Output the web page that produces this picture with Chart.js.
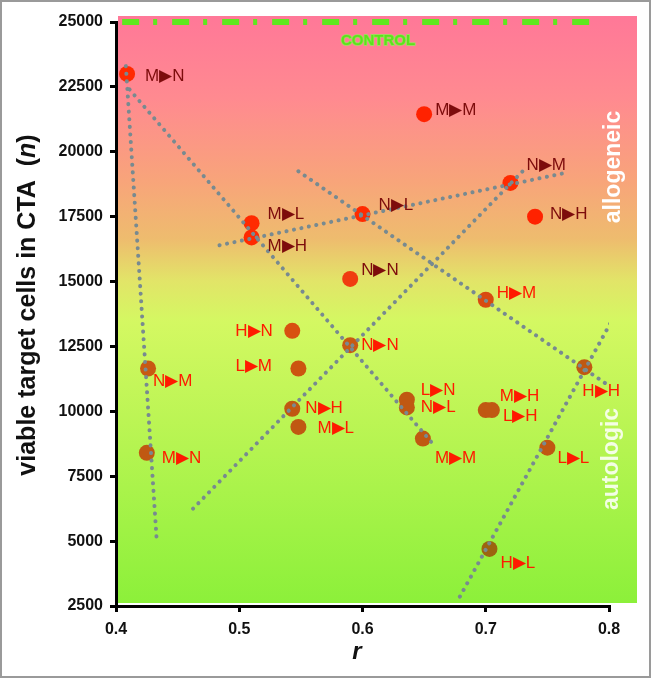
<!DOCTYPE html>
<html>
<head>
<meta charset="utf-8">
<script src="https://cdn.jsdelivr.net/npm/chart.js@4.4.1/dist/chart.umd.min.js"></script>
<style>
    html, body { margin: 0; padding: 0; background: #fff; }
    #wrap { width: 651px; height: 678px; position: relative; }
</style>
</head>
<body>
<div id="wrap"><canvas id="ctaChart"></canvas></div>
<script>
// Data
const rValues = [0.409, 0.65, 0.72, 0.74, 0.51, 0.51, 0.60, 0.59, 0.70, 0.543, 0.548, 0.426,
    0.59, 0.543, 0.548, 0.636, 0.636, 0.70, 0.705, 0.649, 0.425, 0.75, 0.78, 0.703];
const viableCells = [23000, 21450, 18800, 17500, 17250, 16700, 17600, 15100, 14300, 13100, 11650, 11650,
    12550, 10100, 9400, 10450, 10150, 10050, 10050, 8950, 8400, 8600, 11700, 4700];
const pairLabels = ['M▶N', 'M▶M', 'N▶M', 'N▶H', 'M▶L', 'M▶H', 'N▶L', 'N▶N', 'H▶M', 'H▶N', 'L▶M', 'N▶M',
    'N▶N', 'N▶H', 'M▶L', 'L▶N', 'N▶L', 'M▶H', 'L▶H', 'M▶M', 'M▶N', 'L▶L', 'H▶H', 'H▶L'];

// dotted trend lines: [start, end] as [r, cells]
const trendLines = [
    [[0.408, 23300], [0.433, 5050]],
    [[0.411, 22400], [0.659, 8640]],
    [[0.4625, 6250], [0.733, 19400]],
    [[0.484, 16400], [0.766, 19200]],
    [[0.548, 19250], [0.8025, 10900]],
    [[0.679, 2860], [0.807, 13900]]
];

const controlLevel = 25000;
const controlRange = [0.405, 0.795];

const xTicks = [0.4, 0.5, 0.6, 0.7, 0.8];
const yTicks = [2500, 5000, 7500, 10000, 12500, 15000, 17500, 20000, 22500, 25000];

// styling per point (not data)
const pointColors = ['#ff2a00', '#ff2200', '#ff2a00', '#ff2200', '#ff2a00', '#ff2a00', '#ff2a00', '#f03c10',
    '#d84a10', '#d85010', '#cc5510', '#c85a12', '#c85a12', '#c05812', '#c05812', '#c05812', '#c05812',
    '#c05812', '#c05812', '#c05812', '#c05812', '#c05812', '#c05812', '#9c6410'];
const labelColors = pairLabels.map((_, i) => i < 8 ? '#7d0c0c' : '#ff1a00');
const labelOffsets = [[18, 2], [11, -4], [16, -18], [15, -2], [16, -9], [16, 9], [16, -9], [11, -9],
    [11, -6], [-57, 0], [-63, -2], [5, 13], [11, 0], [13, 0], [19, 1], [14, -9], [14, 0],
    [14, -14], [11, 6], [12, 20], [15, 5], [10, 11], [-2, 24], [11, 14]];

const FONT = "'Liberation Sans', Arial, sans-serif";

// Background gradient, frame and side texts
const backdropPlugin = {
    id: 'backdrop',
    beforeDraw(chart) {
        const { ctx, chartArea: a } = chart;
        ctx.save();
        ctx.fillStyle = '#fff';
        ctx.fillRect(0, 0, chart.width, chart.height);
        const top = a.top - 6, bottom = a.bottom - 3;
        const g = ctx.createLinearGradient(0, top, 0, bottom);
        g.addColorStop(0, '#ff7898');
        g.addColorStop(0.14, '#ff8a90');
        g.addColorStop(0.28, '#f8a47a');
        g.addColorStop(0.38, '#eebc6e');
        g.addColorStop(0.45, '#e2e468');
        g.addColorStop(0.52, '#d4f862');
        g.addColorStop(0.74, '#b4f450');
        g.addColorStop(1, '#8cf03a');
        ctx.fillStyle = g;
        ctx.fillRect(a.left + 2, top, a.right + 28 - a.left - 2, bottom - top);
        ctx.strokeStyle = '#9a9a9a';
        ctx.lineWidth = 2;
        ctx.strokeRect(1, 1, chart.width - 2, chart.height - 2);
        ctx.restore();
    },
    afterDatasetsDraw(chart) {
        const { ctx, scales: { x, y } } = chart;
        ctx.save();
        // point labels
        ctx.font = '17px ' + FONT;
        ctx.textAlign = 'left';
        ctx.textBaseline = 'middle';
        pairLabels.forEach((lbl, i) => {
            ctx.fillStyle = labelColors[i];
            ctx.fillText(lbl, x.getPixelForValue(rValues[i]) + labelOffsets[i][0],
                y.getPixelForValue(viableCells[i]) + labelOffsets[i][1]);
        });
        // CONTROL
        ctx.font = 'bold 15px ' + FONT;
        ctx.textAlign = 'center';
        ctx.lineWidth = 1.5;
        ctx.strokeStyle = '#8cf050';
        ctx.strokeText('CONTROL', 378, 41);
        ctx.fillStyle = '#5ee01e';
        ctx.fillText('CONTROL', 378, 41);
        // side labels
        ctx.font = 'bold 23px ' + FONT;
        ctx.fillStyle = '#ffffff';
        ctx.translate(614, 167);
        ctx.rotate(-Math.PI / 2);
        ctx.fillText('allogeneic', 0, 0);
        ctx.restore();
        ctx.save();
        ctx.font = 'bold 23px ' + FONT;
        ctx.textAlign = 'center';
        ctx.textBaseline = 'middle';
        ctx.fillStyle = 'rgba(255,255,255,0.85)';
        ctx.translate(612, 459);
        ctx.rotate(-Math.PI / 2);
        ctx.fillText('autologic', 0, 0);
        ctx.restore();
    },
    afterDraw(chart) {
        const { ctx } = chart;
        // y axis title with italic n
        ctx.save();
        ctx.translate(28, 305);
        ctx.rotate(-Math.PI / 2);
        ctx.textBaseline = 'middle';
        ctx.fillStyle = '#111';
        const boldF = 'bold 25px ' + FONT;
        const italF = 'italic bold 25px ' + FONT;
        const parts = [['viable target cells in CTA  (', boldF], ['n', italF], [')', boldF]];
        let total = 0;
        parts.forEach(p => { ctx.font = p[1]; total += ctx.measureText(p[0]).width; });
        let cx = -total / 2;
        ctx.textAlign = 'left';
        parts.forEach(p => {
            ctx.font = p[1];
            ctx.fillText(p[0], cx, 0);
            cx += ctx.measureText(p[0]).width;
        });
        ctx.restore();
        // x axis title
        ctx.save();
        ctx.font = 'italic bold 24px ' + FONT;
        ctx.fillStyle = '#111';
        ctx.textAlign = 'center';
        ctx.textBaseline = 'middle';
        ctx.fillText('r', 357, 652);
        ctx.restore();
    }
};

const datasets = [];

// control line
datasets.push({
    data: [{ x: controlRange[0], y: controlLevel }, { x: controlRange[1], y: controlLevel }],
    showLine: true,
    borderColor: '#5ee81e',
    borderWidth: 6,
    borderDash: [17, 14, 4, 15],
    pointRadius: 0,
    clip: 10,
    order: 0
});

// trend lines
trendLines.forEach(seg => {
    datasets.push({
        data: seg.map(p => ({ x: p[0], y: p[1] })),
        showLine: true,
        borderColor: '#788a90',
        borderWidth: 4,
        borderDash: [0.1, 7.5],
        borderCapStyle: 'round',
        pointRadius: 0,
        order: 1
    });
});

// points
datasets.push({
    data: rValues.map((r, i) => ({ x: r, y: viableCells[i] })),
    pointRadius: 8,
    pointBorderWidth: 0,
    pointBackgroundColor: pointColors,
    pointBorderColor: pointColors,
    order: 2
});

const tickFont = { family: FONT, size: 16, weight: 'bold' };

new Chart(document.getElementById('ctaChart'), {
    type: 'scatter',
    data: { datasets },
    options: {
        responsive: true,
        maintainAspectRatio: false,
        animation: false,
        layout: { padding: { left: 0, right: 42, top: 22, bottom: 0 } },
        plugins: { legend: { display: false }, tooltip: { enabled: false } },
        scales: {
            x: {
                type: 'linear',
                min: 0.4,
                max: 0.8,
                afterBuildTicks: s => { s.ticks = xTicks.map(v => ({ value: v })); },
                afterFit: s => { s.height = 72; },
                ticks: { color: '#111', font: tickFont, padding: 8, callback: v => v.toFixed(1) },
                grid: { drawOnChartArea: false, color: '#000', lineWidth: 3, tickLength: 6 },
                border: { display: true, color: '#000', width: 3 }
            },
            y: {
                type: 'linear',
                min: 2500,
                max: 25000,
                afterBuildTicks: s => { s.ticks = yTicks.map(v => ({ value: v })); },
                afterFit: s => { s.width = 116; },
                ticks: { color: '#111', font: tickFont, padding: 7, callback: v => String(v) },
                grid: { drawOnChartArea: false, color: '#000', lineWidth: 3, tickLength: 6 },
                border: { display: true, color: '#000', width: 3 }
            }
        }
    },
    plugins: [backdropPlugin]
});
</script>
</body>
</html>
